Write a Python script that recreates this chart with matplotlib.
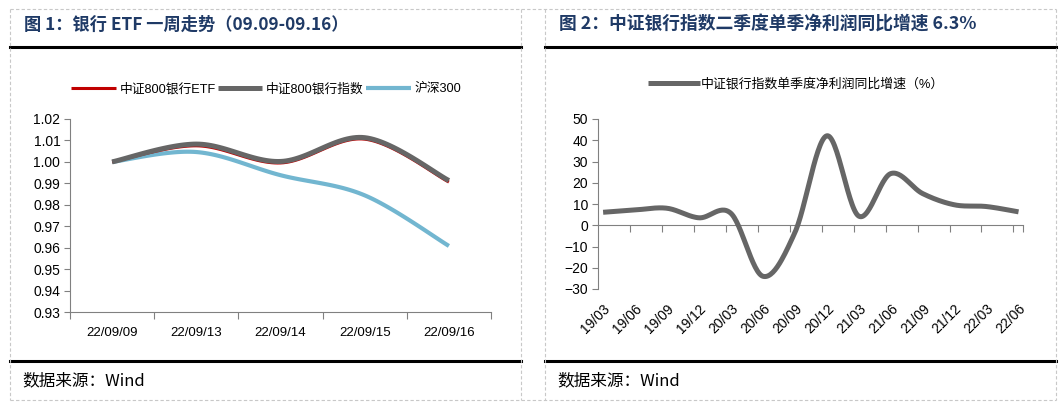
import numpy as np
import matplotlib
matplotlib.use("Agg")
import matplotlib.pyplot as plt
from matplotlib.lines import Line2D

# ---------------- data ----------------
dates1 = ["22/09/09", "22/09/13", "22/09/14", "22/09/15", "22/09/16"]
etf = [1.000, 1.0075, 0.9995, 1.0106, 0.9906]
bank_idx = [1.000, 1.0083, 1.0002, 1.0113, 0.9913]
hs300 = [1.000, 1.0046, 0.9938, 0.9844, 0.9608]
names1 = ["中证800银行ETF", "中证800银行指数", "沪深300"]

quarters = ["19/03", "19/06", "19/09", "19/12", "20/03", "20/06", "20/09",
            "20/12", "21/03", "21/06", "21/09", "21/12", "22/03", "22/06"]
profit_yoy = [6.1, 7.2, 8.0, 3.5, 5.6, -24.0, -3.5, 42.1, 4.3, 24.3, 14.9, 9.6, 8.8, 6.3]
name2 = "中证银行指数单季度净利润同比增速（%）"

title1 = "图 1：银行 ETF 一周走势（09.09-09.16）"
title2 = "图 2：中证银行指数二季度单季净利润同比增速 6.3%"
source = "数据来源：Wind"

# ---------------- style ----------------
FAM = ["Liberation Sans", "Noto Sans CJK SC", "DejaVu Sans"]
plt.rcParams["font.family"] = FAM
W, H = 1063, 405
fig = plt.figure(figsize=(W / 100, H / 100), dpi=100)
fig.patch.set_facecolor("white")


def fx(px):
    return px / W


def fy(py):
    return 1 - py / H


def smooth(xs, ys, n=30):
    xs = np.asarray(xs, float)
    ys = np.asarray(ys, float)
    P = np.column_stack([xs, ys])
    m = len(P)
    out = []
    for i in range(m - 1):
        p0 = P[i - 1] if i > 0 else P[i]
        p1 = P[i]
        p2 = P[i + 1]
        p3 = P[i + 2] if i + 2 < m else P[i + 1]
        c1 = p1 + (p2 - p0) / 6
        c2 = p2 - (p3 - p1) / 6
        t = np.linspace(0, 1, n)[:, None]
        seg = ((1 - t) ** 3) * p1 + 3 * ((1 - t) ** 2) * t * c1 + 3 * (1 - t) * t ** 2 * c2 + t ** 3 * p2
        out.append(seg if i == 0 else seg[1:])
    S = np.vstack(out)
    return S[:, 0], S[:, 1]


# ---------------- frame lines ----------------
dash_c = "#c8c8c8"
for x0, x1 in [(10, 521), (545, 1056)]:
    fig.add_artist(Line2D([fx(x0), fx(x1)], [fy(47), fy(47)], color="black", lw=2.2))
    fig.add_artist(Line2D([fx(x0), fx(x1)], [fy(361), fy(361)], color="black", lw=2.2))
fig.add_artist(Line2D([fx(10), fx(1056)], [fy(9), fy(9)], color=dash_c, lw=0.8, ls=(0, (3, 2))))
fig.add_artist(Line2D([fx(10), fx(1056)], [fy(400), fy(400)], color=dash_c, lw=0.8, ls=(0, (3, 2))))
for xv in [10, 521, 545, 1056]:
    fig.add_artist(Line2D([fx(xv), fx(xv)], [fy(9), fy(400)], color=dash_c, lw=0.8, ls=(0, (3, 2))))

title_c = "#1f3a66"
fig.text(fx(24), fy(25), title1, fontsize=12.4, fontweight="bold", color=title_c,
         va="center", ha="left", family=["Noto Sans CJK SC", "DejaVu Sans"])
fig.text(fx(559), fy(25), title2, fontsize=12.8, fontweight="bold", color=title_c,
         va="center", ha="left", family=["Noto Sans CJK SC", "DejaVu Sans"])
fig.text(fx(22), fy(381), source, fontsize=12, color="black", va="center", ha="left",
         family=["Noto Sans CJK SC", "DejaVu Sans"])
fig.text(fx(557), fy(381), source, fontsize=12, color="black", va="center", ha="left",
         family=["Noto Sans CJK SC", "DejaVu Sans"])

# ---------------- chart 1 ----------------
ax1 = fig.add_axes([fx(70), fy(312), fx(491) - fx(70), fy(119) - fy(312)])
x1 = np.arange(len(dates1))
red_c, gray_c, blue_c = "#c00000", "#666666", "#72b6d0"
sx, sy = smooth(x1, etf)
ax1.plot(sx, sy, color=red_c, lw=2.2, solid_capstyle="butt", label=names1[0], zorder=3)
sx, sy = smooth(x1, bank_idx)
ax1.plot(sx, sy, color=gray_c, lw=3.6, solid_capstyle="butt", label=names1[1], zorder=4)
sx, sy = smooth(x1, hs300)
ax1.plot(sx, sy, color=blue_c, lw=3.0, solid_capstyle="butt", label=names1[2], zorder=2)

ax1.set_xlim(-0.5, len(dates1) - 0.5)
ax1.set_ylim(0.93, 1.02)
ax1.set_yticks(np.arange(0.93, 1.0201, 0.01))
ax1.set_yticklabels([f"{v:.2f}" for v in np.arange(0.93, 1.0201, 0.01)])
ax1.set_xticks(x1)
ax1.set_xticklabels(dates1)
ax1.set_xticks(np.arange(-0.5, len(dates1)), minor=True)
ax1.tick_params(axis="x", which="major", length=0, pad=11, labelsize=9.5)
ax1.tick_params(axis="x", which="minor", length=5, width=0.8, color="#808080", direction="out")
ax1.tick_params(axis="y", length=4, width=0.8, color="#808080", pad=3, labelsize=10)
for s in ["top", "right"]:
    ax1.spines[s].set_visible(False)
for s in ["left", "bottom"]:
    ax1.spines[s].set_color("#808080")
    ax1.spines[s].set_linewidth(0.8)
leg1 = ax1.legend(loc="center", bbox_to_anchor=(fx(266), fy(89)), bbox_transform=fig.transFigure,
                  ncol=3, frameon=False, fontsize=9.2, handlelength=3.5, handletextpad=0.3,
                  columnspacing=0.15, borderaxespad=0)

# ---------------- chart 2 ----------------
ax2 = fig.add_axes([fx(598), fy(289), fx(1023) - fx(598), fy(119) - fy(289)])
x2 = np.arange(len(quarters))
sx, sy = smooth(x2, profit_yoy)
ax2.plot(sx, sy, color=gray_c, lw=3.6, solid_capstyle="butt", label=name2)
ymin, ymax = -30, 50
ax2.set_ylim(ymin, ymax)
ax2.set_xlim(-0.16, len(quarters) - 1 + 0.14)
ax2.set_yticks(np.arange(-30, 51, 10))
ax2.tick_params(axis="y", length=4, width=0.8, color="#808080", pad=3, labelsize=10)
ax2.set_xticks(x2)
ax2.set_xticklabels(quarters, rotation=45, ha="right", va="top", rotation_mode="anchor")
ax2.tick_params(axis="x", which="major", length=0, pad=9, labelsize=10)
for s in ["top", "right", "bottom"]:
    ax2.spines[s].set_visible(False)
ax2.spines["left"].set_color("#808080")
ax2.spines["left"].set_linewidth(0.8)
zero_frac = (0 - ymin) / (ymax - ymin)
sec = ax2.secondary_xaxis(zero_frac)
sec.set_xticks(list(np.arange(1, len(quarters)) - 0.16) + [len(quarters) - 1 + 0.14])
sec.set_xticklabels([])
sec.tick_params(axis="x", length=5, width=0.8, color="#808080", direction="out")
sec.spines["bottom"].set_color("#808080")
sec.spines["bottom"].set_linewidth(0.8)
leg2 = ax2.legend(loc="center", bbox_to_anchor=(fx(796), fy(84)), bbox_transform=fig.transFigure,
                  frameon=False, fontsize=9.3, handlelength=4.0, handletextpad=0.1, borderaxespad=0)

fig.savefig("out.png", dpi=100, facecolor="white")
